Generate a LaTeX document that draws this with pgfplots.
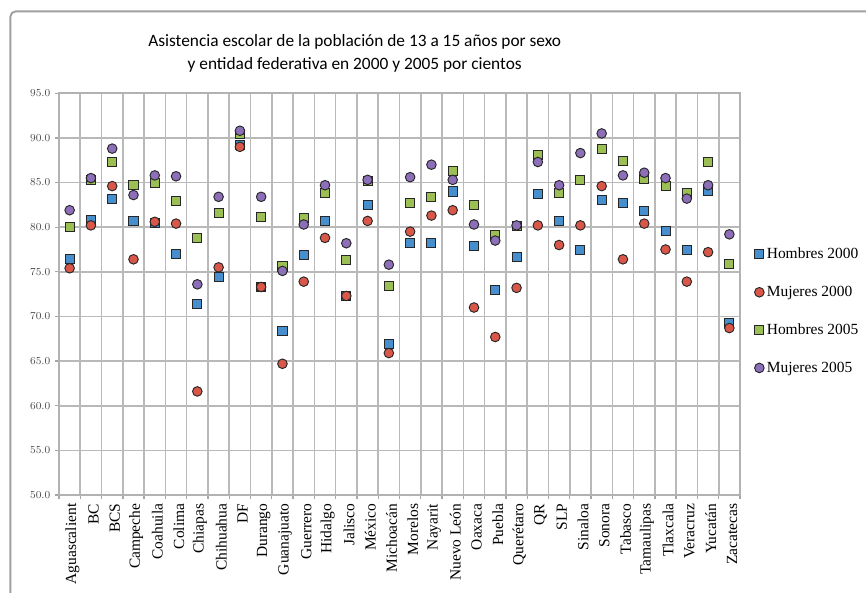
\documentclass[border=0pt]{standalone}
\usepackage{pgfplots}
\pgfplotsset{compat=1.18}
\usepackage{pgfplotstable}
\usepackage{fontspec}
\setmainfont{Liberation Serif}
\newfontfamily\titlefont{Carlito}
\newfontfamily\tickfont{DejaVu Sans}

\definecolor{hA}{RGB}{70,142,205}
\definecolor{mA}{RGB}{217,87,72}
\definecolor{hB}{RGB}{155,190,85}
\definecolor{mB}{RGB}{140,110,185}

% asistencia escolar, 13 a 15 anos
\pgfplotstableread{
x  h00  m00  h05  m05
0  76.4 75.4 80.0 81.9
1  80.8 80.2 85.3 85.5
2  83.2 84.6 87.3 88.8
3  80.7 76.4 84.7 83.6
4  80.5 80.6 84.9 85.8
5  77.0 80.4 82.9 85.7
6  71.4 61.6 78.8 73.6
7  74.4 75.5 81.6 83.4
8  89.2 89.0 90.4 90.8
9  73.3 73.3 81.1 83.4
10 68.4 64.7 75.6 75.1
11 76.9 73.9 81.0 80.3
12 80.7 78.8 83.8 84.7
13 72.3 72.3 76.3 78.2
14 82.5 80.7 85.2 85.3
15 66.9 65.9 73.4 75.8
16 78.2 79.5 82.7 85.6
17 78.2 81.3 83.4 87.0
18 84.0 81.9 86.3 85.3
19 77.9 71.0 82.5 80.3
20 73.0 67.7 79.1 78.5
21 76.7 73.2 80.1 80.2
22 83.7 80.2 88.1 87.3
23 80.7 78.0 83.8 84.7
24 77.4 80.2 85.3 88.3
25 83.0 84.6 88.8 90.5
26 82.7 76.4 87.4 85.8
27 81.8 80.4 85.4 86.1
28 79.6 77.5 84.6 85.5
29 77.4 73.9 83.8 83.2
30 84.1 77.2 87.3 84.7
31 69.3 68.7 75.9 79.2
}\data

\begin{document}
\begin{tikzpicture}
\path[use as bounding box] (0pt,0pt) rectangle (649.5pt,444pt);
\draw[gray!75, line width=1.4pt, rounded corners=4pt] (7.8pt,-10pt) -- (7.8pt,435.5pt) -- (670pt,435.5pt);
\node[font=\titlefont\fontsize{13}{17.3}\selectfont, align=center] at (266pt,404pt)
  {Asistencia escolar de la población de 13 a 15 años por sexo\\y entidad federativa en 2000 y 2005 por cientos};
\begin{scope}[shift={(44.25pt,72.75pt)}]
\begin{axis}[
    anchor=south west,
    scale only axis, width=510.75pt, height=301.3pt,
    xmin=-0.5, xmax=31.5, ymin=50, ymax=95,
    ytick={50,55,...,95},
    xtick={0,...,31},
    xticklabels={Aguascalient,BC,BCS,Campeche,Coahuila,Colima,Chiapas,Chihuahua,DF,Durango,Guanajuato,Guerrero,Hidalgo,Jalisco,México,Michoacán,Morelos,Nayarit,Nuevo León,Oaxaca,Puebla,Querétaro,QR,SLP,Sinaloa,Sonora,Tabasco,Tamaulipas,Tlaxcala,Veracruz,Yucatán,Zacatecas},
    minor xtick={-0.5,0.5,...,31.5},
    xminorgrids=true, ymajorgrids=true,
    major x tick style={draw=none},
    tick align=outside, tick pos=left,
    major tick length=3pt, minor tick length=3pt,
    tick style={gray!70, line width=1pt},
    axis line style={gray!60, line width=1.2pt},
    grid style={gray!55, line width=1.2pt},
    minor grid style={gray!55, line width=1.2pt},
    yticklabel style={font=\tickfont\fontsize{8}{9}\selectfont, text=black!70,
      /pgf/number format/.cd, fixed, fixed zerofill, precision=1},
    xticklabel style={rotate=90, anchor=east, font=\fontsize{11.6}{13}\selectfont, yshift=-2pt},
    legend style={at={(1.021,0.622)}, anchor=north west, draw=none, fill=none,
      font=\fontsize{11.6}{13}\selectfont, row sep=15pt, inner sep=0pt},
    legend cell align=left,
    legend image code/.code={\draw[only marks,#1] plot coordinates {(0.12cm,0cm)};},
    mark size=3.4pt,
]
\addplot[only marks, mark=square*, mark options={fill=hA, draw=black!85, line width=0.7pt}] table[x=x,y=h00]{\data};
\addlegendentry{Hombres 2000}
\addplot[only marks, mark=*, mark size=3.6pt, mark options={fill=mA, draw=black!85, line width=0.7pt}] table[x=x,y=m00]{\data};
\addlegendentry{Mujeres 2000}
\addplot[only marks, mark=square*, mark options={fill=hB, draw=black!85, line width=0.7pt}] table[x=x,y=h05]{\data};
\addlegendentry{Hombres 2005}
\addplot[only marks, mark=*, mark size=3.6pt, mark options={fill=mB, draw=black!85, line width=0.7pt}] table[x=x,y=m05]{\data};
\addlegendentry{Mujeres 2005}
\end{axis}
\end{scope}
\end{tikzpicture}
\end{document}
